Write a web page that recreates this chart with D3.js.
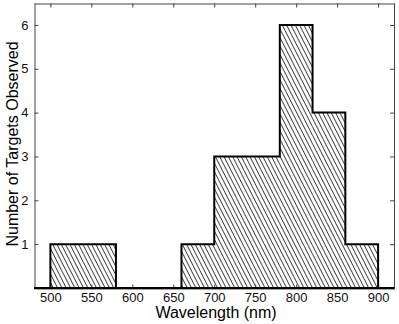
<!DOCTYPE html>
<html>
<head>
<meta charset="utf-8">
<script src="https://cdn.jsdelivr.net/npm/d3@7"></script>
<style>
  body { margin: 0; background: #fff; }
  svg text { font-family: "Liberation Sans", Arial, sans-serif; fill: #000; }
</style>
</head>
<body>
<svg id="chart" width="399" height="324"></svg>
<script>
// histogram bins (nm) and counts
let binStarts = [500, 540, 580, 620, 660, 700, 740, 780, 820, 860];
let binWidth = 40;
let counts = [1, 1, 0, 0, 1, 3, 3, 6, 4, 1];
let xTicks = [500, 550, 600, 650, 700, 750, 800, 850, 900];
let yTicks = [1, 2, 3, 4, 5, 6];

let W = 399, H = 324;
let margin = {left: 34, right: 4.5, top: 3, bottom: 36};
let svg = d3.select('#chart');

let x = d3.scaleLinear().domain([480, 920]).range([margin.left, W - margin.right]);
let y = d3.scaleLinear().domain([0, 6.5]).range([H - margin.bottom, margin.top]);

// hatch pattern
svg.append('defs').append('pattern')
    .attr('id', 'hatch')
    .attr('patternUnits', 'userSpaceOnUse')
    .attr('width', 3.85)
    .attr('height', 10)
    .attr('patternTransform', 'rotate(-27)')
    .append('line')
    .attr('x1', 1).attr('y1', -1)
    .attr('x2', 1).attr('y2', 11)
    .attr('stroke', '#000')
    .attr('stroke-width', 0.75)
    .attr('shape-rendering', 'crispEdges');

// bars (fill only)
svg.append('g').selectAll('rect')
    .data(counts)
    .enter()
    .append('rect')
    .attr('x', (d, i) => x(binStarts[i]))
    .attr('y', d => y(d))
    .attr('width', (d, i) => x(binStarts[i] + binWidth) - x(binStarts[i]))
    .attr('height', d => y(0) - y(d))
    .attr('fill', 'url(#hatch)');

// axes box
let axisColor = '#444';
let fmt = d3.format('d');
let xBottom = d3.axisBottom(x).tickValues(xTicks).tickFormat(fmt).tickSizeInner(-4).tickSizeOuter(0).tickPadding(4);
let xTop = d3.axisTop(x).tickValues(xTicks).tickSizeInner(-4).tickSizeOuter(0).tickFormat('');
let yLeft = d3.axisLeft(y).tickValues(yTicks).tickFormat(fmt).tickSizeInner(-4).tickSizeOuter(0).tickPadding(6);
let yRight = d3.axisRight(y).tickValues(yTicks).tickSizeInner(-4).tickSizeOuter(0).tickFormat('');

function styleAxis(g) {
    g.selectAll('.domain').attr('stroke', axisColor).attr('stroke-width', 1);
    g.selectAll('.tick line').attr('stroke', axisColor);
    g.selectAll('.tick text')
        .attr('font-size', '13px')
        .attr('font-family', '"Liberation Sans", Arial, sans-serif')
        .style('fill', '#111');
}
svg.append('g').attr('transform', 'translate(0,' + (y(0) + 0.5) + ')').call(xBottom).call(styleAxis);
svg.append('g').attr('transform', 'translate(0,' + (margin.top + 0.5) + ')').call(xTop).call(styleAxis);
svg.append('g').attr('transform', 'translate(' + (margin.left + 0.5) + ',0)').call(yLeft).call(styleAxis);
svg.append('g').attr('transform', 'translate(' + (x(920) - 0.5) + ',0)').call(yRight).call(styleAxis);

// thick baseline
svg.append('line')
    .attr('x1', x(480)).attr('x2', x(920))
    .attr('y1', y(0)).attr('y2', y(0))
    .attr('stroke', '#000').attr('stroke-width', 2);

// stair outline
let pts = [[binStarts[0], 0]];
counts.forEach((c, i) => pts.push([binStarts[i], c]));
pts.push([binStarts[binStarts.length - 1] + binWidth, 0]);
svg.append('path')
    .datum(pts)
    .attr('fill', 'none')
    .attr('stroke', '#000')
    .attr('stroke-width', 2)
    .attr('d', d3.line().x(d => x(d[0])).y(d => y(d[1])).curve(d3.curveStepAfter));

// axis labels
svg.append('text')
    .attr('x', 216)
    .attr('y', 318)
    .attr('text-anchor', 'middle')
    .attr('font-size', '16px')
    .text('Wavelength (nm)');
svg.append('text')
    .attr('transform', 'translate(17.5,144) rotate(-90)')
    .attr('text-anchor', 'middle')
    .attr('font-size', '16px')
    .text('Number of Targets Observed');
</script>
</body>
</html>
